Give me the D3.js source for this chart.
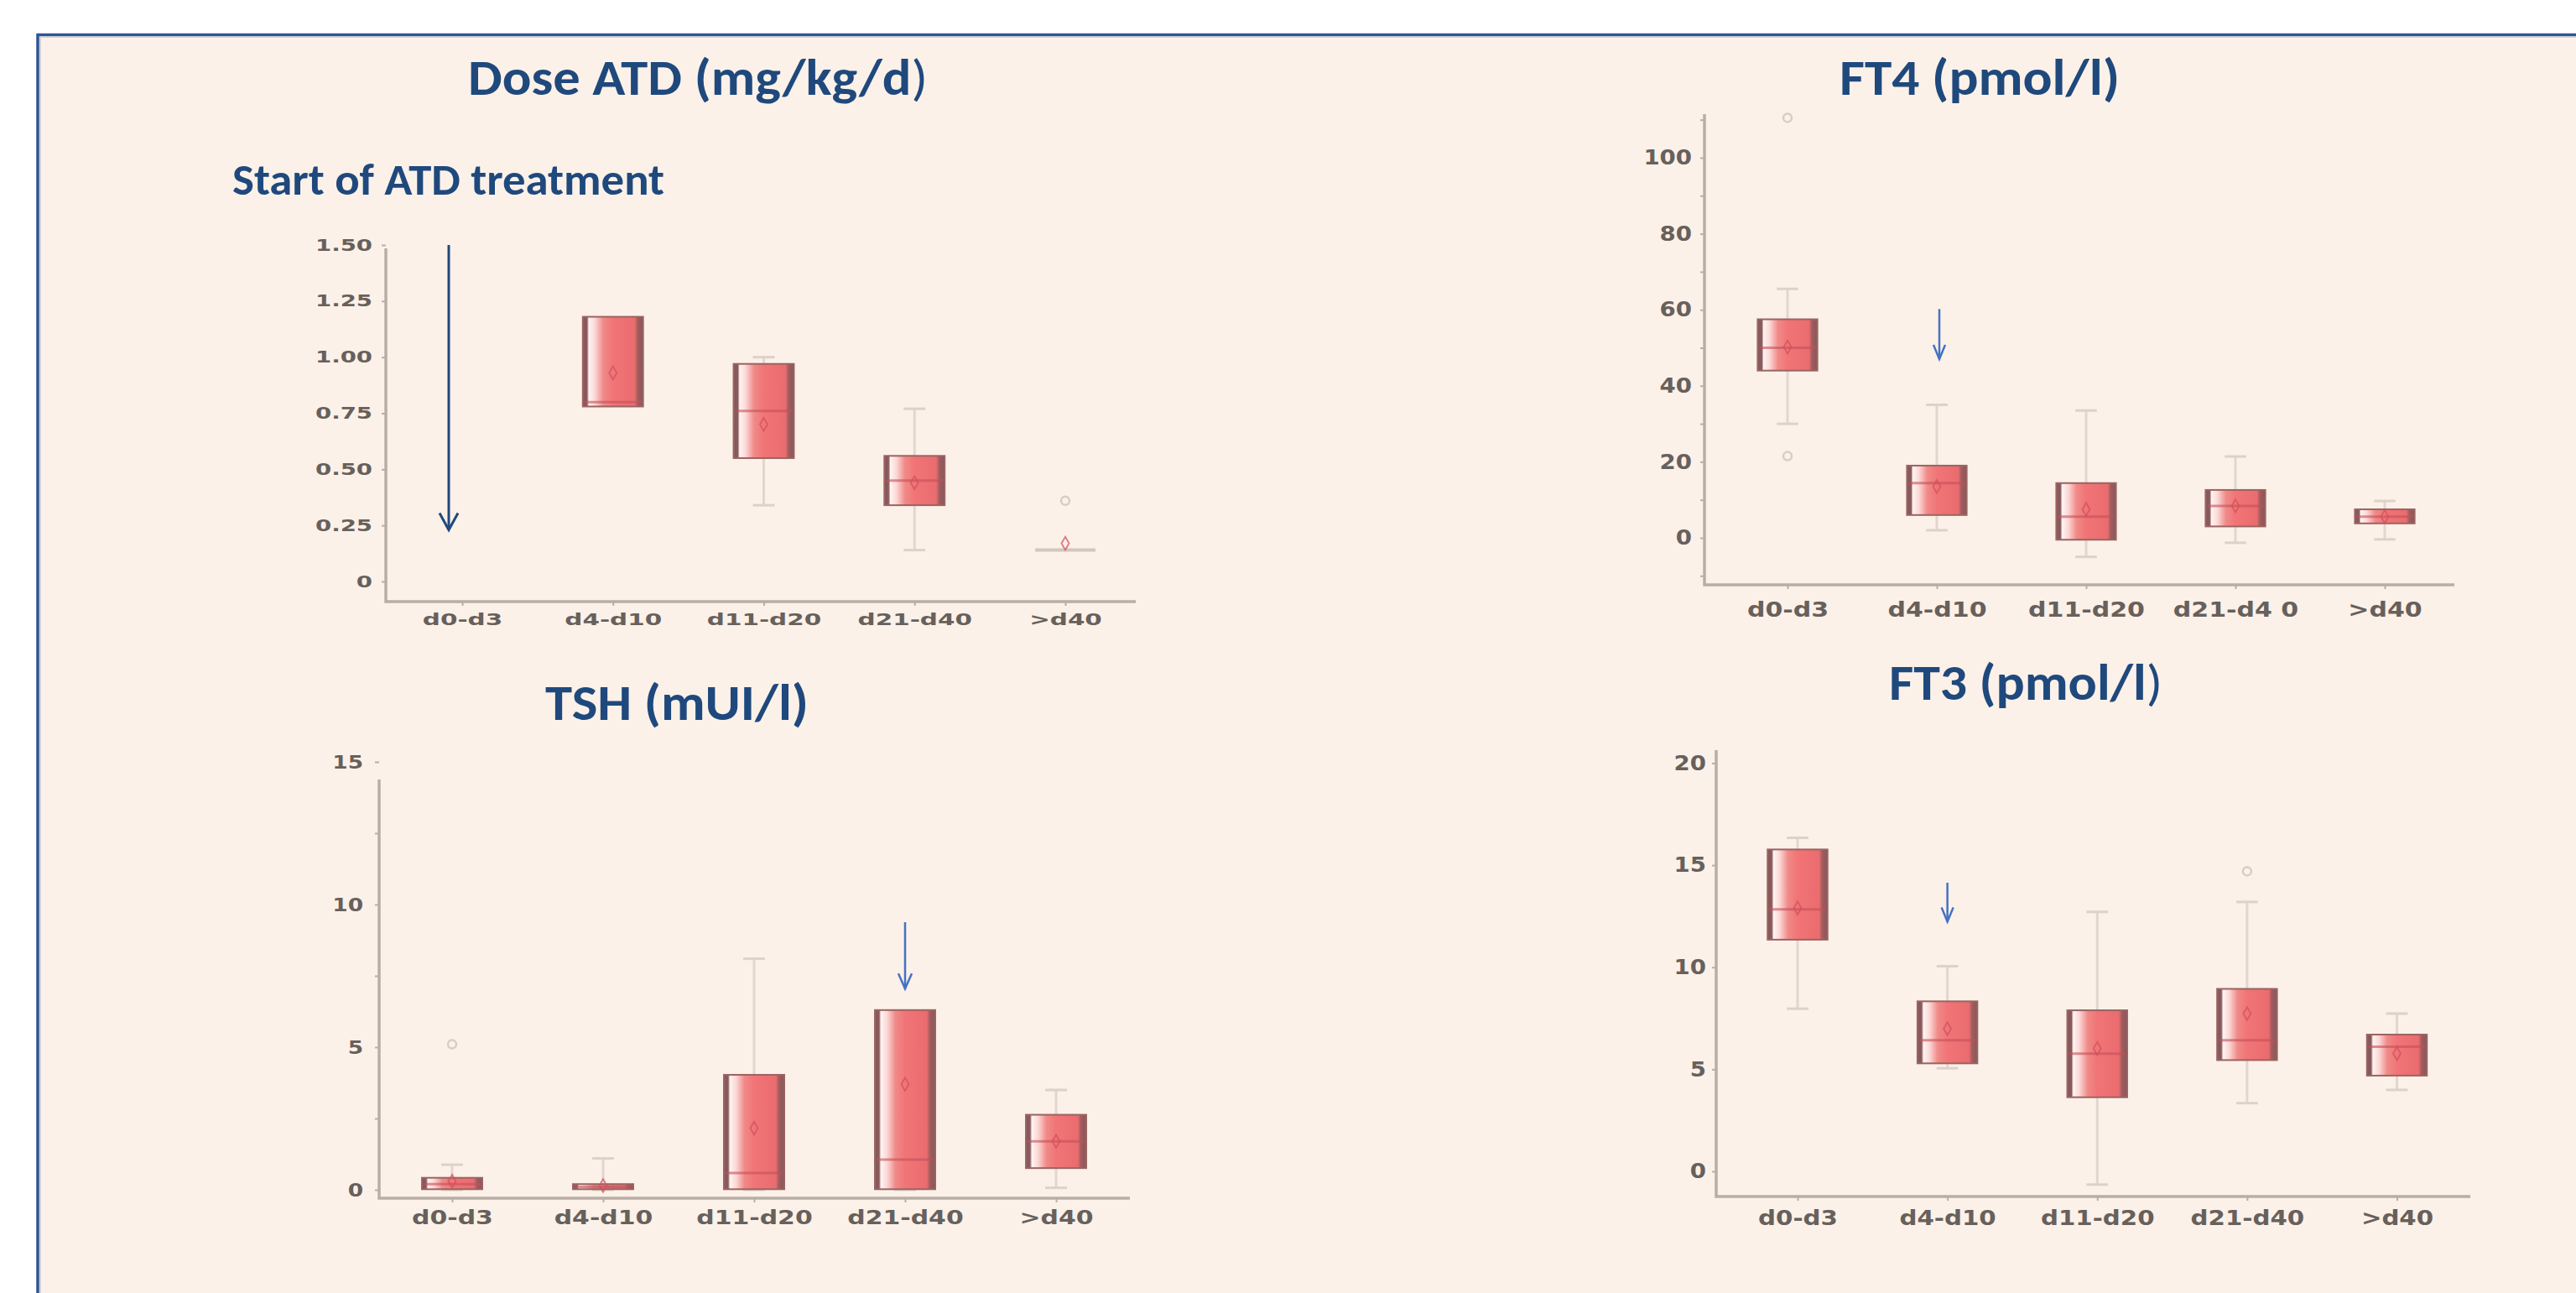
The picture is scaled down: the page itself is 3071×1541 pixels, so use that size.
<!DOCTYPE html>
<html>
<head>
<meta charset="utf-8">
<script src="https://cdn.jsdelivr.net/npm/d3@7"></script>
<style>
  html, body { margin: 0; padding: 0; background: #fff; }
  svg { display: block; }
</style>
</head>
<body>
<svg id="chart" width="3071" height="1541"></svg>
<script>
// categories (FT4 panel has the odd "d21-d4 0" label as in the source)
const categories = ['d0-d3', 'd4-d10', 'd11-d20', 'd21-d40', '>d40'];
const ft4Categories = ['d0-d3', 'd4-d10', 'd11-d20', 'd21-d4 0', '>d40'];

// Dose ATD (mg/kg/d)
const doseLow    = [null, 0.78, 0.34, 0.14, 0.14];
const doseQ1     = [null, 0.78, 0.55, 0.34, 0.14];
const doseMedian = [null, 0.80, 0.76, 0.45, 0.14];
const doseQ3     = [null, 1.18, 0.97, 0.56, 0.14];
const doseHigh   = [null, 1.18, 1.00, 0.77, 0.14];
const doseMean   = [null, 0.93, 0.70, 0.44, 0.17];
const doseOutlierCats = ['>d40'];
const doseOutlierValues = [0.36];
const doseTicks = [0, 0.25, 0.5, 0.75, 1, 1.25, 1.5];
const doseTickLabels = ['0', '0.25', '0.50', '0.75', '1.00', '1.25', '1.50'];

// FT4 (pmol/l)
const ft4Low    = [30, 2, -5, -1.3, -0.4];
const ft4Q1     = [44, 6, -0.5, 3, 3.8];
const ft4Median = [50, 14.4, 5.6, 8.4, 5.6];
const ft4Q3     = [57.5, 19, 14.4, 12.6, 7.5];
const ft4High   = [65.5, 35, 33.5, 21.4, 9.7];
const ft4Mean   = [50.2, 13.5, 7.5, 8.4, 5.6];
const ft4OutlierCats = ['d0-d3', 'd0-d3'];
const ft4OutlierValues = [110.5, 21.5];
const ft4Ticks = [0, 20, 40, 60, 80, 100];
const ft4TickLabels = ['0', '20', '40', '60', '80', '100'];
const ft4MinorTicks = [-10, 10, 30, 50, 70, 90, 110];

// TSH (mUI/l)
const tshLow    = [0, 0, 0, 0, 0.07];
const tshQ1     = [0.02, 0.02, 0.02, 0.02, 0.76];
const tshMedian = [0.2, 0.1, 0.59, 1.06, 1.7];
const tshQ3     = [0.42, 0.2, 4.03, 6.3, 2.63];
const tshHigh   = [0.88, 1.1, 8.1, 6.3, 3.5];
const tshMean   = [0.3, 0.15, 2.16, 3.7, 1.7];
const tshOutlierCats = ['d0-d3'];
const tshOutlierValues = [5.1];
const tshTicks = [0, 5, 10, 15];
const tshTickLabels = ['0', '5', '10', '15'];
const tshMinorTicks = [2.5, 7.5, 12.5];

// FT3 (pmol/l)
const ft3Low    = [7.97, 5.05, -0.65, 3.34, 3.99];
const ft3Q1     = [11.35, 5.29, 3.63, 5.45, 4.69];
const ft3Median = [12.84, 6.42, 5.77, 6.42, 6.1];
const ft3Q3     = [15.77, 8.33, 7.89, 8.94, 6.7];
const ft3High   = [16.34, 10.05, 12.71, 13.2, 7.73];
const ft3Mean   = [12.9, 6.99, 6.02, 7.73, 5.77];
const ft3OutlierCats = ['d21-d40'];
const ft3OutlierValues = [14.7];
const ft3Ticks = [0, 5, 10, 15, 20];
const ft3TickLabels = ['0', '5', '10', '15', '20'];

const svg = d3.select('#chart');
const defs = svg.append('defs');

// box fill: dark edges, pale stripe on the left, red body
const grad = defs.append('linearGradient').attr('id', 'boxGrad')
    .attr('x1', 0).attr('x2', 1).attr('y1', 0).attr('y2', 0);
[[0, '#86585a'], [0.07, '#8a5a5c'], [0.1, '#fff4f2'], [0.2, '#fbd8d6'], [0.34, '#f08a88'],
 [0.5, '#f17476'], [0.86, '#ea6c6e'], [0.91, '#a25c5e'], [1, '#86585a']]
    .forEach(([o, c]) => grad.append('stop').attr('offset', o).attr('stop-color', c));

// frame
svg.append('rect').attr('width', 3071).attr('height', 1541).attr('fill', '#fff');
svg.append('rect')
    .attr('x', 45).attr('y', 41.5).attr('width', 3100).attr('height', 1600)
    .attr('fill', '#fcf1e8').attr('stroke', '#2f5597').attr('stroke-width', 3.5);
svg.append('path').attr('d', 'M48,1541V44H3071')
    .attr('fill', 'none').attr('stroke', '#c6c8d2').attr('stroke-width', 1.5);

const axisColor = '#b9aea6';

function styleLabels(sel, f) {
    sel.selectAll('text')
        .attr('font-family', "'DejaVu Sans', Verdana, sans-serif")
        .attr('font-weight', 'bold')
        .attr('font-size', f.size)
        .attr('fill', '#67605c')
        .attr('transform', `scale(${f.sx},1)`)
        .attr('x', function () { return (+d3.select(this).attr('x') || 0) / f.sx; });
}

function drawPanel(p) {
    const L = p.layout;
    const x = d3.scalePoint().domain(p.cats).range(L.xRange);
    const y = d3.scaleLinear().domain(L.yDomain).range(L.yRange);
    const bw = x.step() * 0.4;
    const g = svg.append('g');

    // minor ticks
    if (p.minorTicks.length) {
        const gm = g.append('g').attr('transform', `translate(${L.left},0)`)
            .call(d3.axisLeft(y).tickValues(p.minorTicks).tickFormat('').tickSize(L.tick));
        gm.select('.domain').remove();
        gm.selectAll('line').attr('stroke', axisColor).attr('stroke-width', 2);
    }

    // y axis
    const gy = g.append('g').attr('transform', `translate(${L.left},0)`)
        .call(d3.axisLeft(y).tickValues(p.ticks)
            .tickFormat(d => p.tickLabels[p.ticks.indexOf(d)])
            .tickSize(L.tick).tickPadding(p.yFont.pad));
    gy.select('.domain').remove();
    gy.selectAll('line').attr('stroke', axisColor).attr('stroke-width', 2);
    styleLabels(gy, p.yFont);

    // x axis
    const gx = g.append('g').attr('transform', `translate(0,${L.bottom})`)
        .call(d3.axisBottom(x).tickSize(L.tick).tickPadding(p.xFont.pad));
    gx.select('.domain').remove();
    gx.selectAll('line').attr('stroke', axisColor).attr('stroke-width', 2);
    styleLabels(gx, p.xFont);

    // axis lines
    g.append('path')
        .attr('d', `M${L.left},${L.top}V${L.bottom}H${L.right}`)
        .attr('fill', 'none').attr('stroke', axisColor).attr('stroke-width', 3.5);

    const stats = p.cats.map((c, i) => ({
        cat: c, lo: p.low[i], q1: p.q1[i], med: p.median[i],
        q3: p.q3[i], hi: p.high[i], mean: p.mean[i]
    })).filter(d => d.q1 != null);

    // whiskers
    g.selectAll('.whisker').data(stats).join('line')
        .attr('class', 'whisker')
        .attr('x1', d => x(d.cat)).attr('x2', d => x(d.cat))
        .attr('y1', d => y(d.lo)).attr('y2', d => y(d.hi))
        .attr('stroke', '#e2d6ce').attr('stroke-width', 3);

    const caps = [];
    stats.forEach(d => {
        if (d.hi > d.q3) caps.push({cat: d.cat, v: d.hi});
        if (d.lo < d.q1) caps.push({cat: d.cat, v: d.lo});
    });
    g.selectAll('.cap').data(caps).join('line')
        .attr('class', 'cap')
        .attr('x1', d => x(d.cat) - bw * 0.18).attr('x2', d => x(d.cat) + bw * 0.18)
        .attr('y1', d => y(d.v)).attr('y2', d => y(d.v))
        .attr('stroke', '#ddd1c9').attr('stroke-width', 3);

    // boxes
    const boxes = stats.filter(d => y(d.q1) - y(d.q3) > 1);
    g.selectAll('.box').data(boxes).join('rect')
        .attr('class', 'box')
        .attr('x', d => x(d.cat) - bw / 2).attr('width', bw)
        .attr('y', d => y(d.q3)).attr('height', d => y(d.q1) - y(d.q3))
        .attr('fill', 'url(#boxGrad)')
        .attr('stroke', '#9a6462').attr('stroke-width', 2);

    // collapsed boxes drawn as a flat line
    g.selectAll('.flat').data(stats.filter(d => y(d.q1) - y(d.q3) <= 1)).join('line')
        .attr('class', 'flat')
        .attr('x1', d => x(d.cat) - bw / 2).attr('x2', d => x(d.cat) + bw / 2)
        .attr('y1', d => y(d.q1)).attr('y2', d => y(d.q1))
        .attr('stroke', '#d3c6be').attr('stroke-width', 4);

    // medians
    g.selectAll('.median').data(boxes).join('line')
        .attr('class', 'median')
        .attr('x1', d => x(d.cat) - bw / 2 + 2).attr('x2', d => x(d.cat) + bw / 2 - 2)
        .attr('y1', d => y(d.med)).attr('y2', d => y(d.med))
        .attr('stroke', '#c4505a').attr('stroke-width', 3).attr('opacity', 0.6);

    // means
    g.selectAll('.mean').data(stats).join('path')
        .attr('class', 'mean')
        .attr('transform', d => `translate(${x(d.cat)},${y(d.mean)})`)
        .attr('d', d3.symbol(d3.symbolDiamond, 70))
        .attr('fill', 'none').attr('stroke', '#d2505c').attr('stroke-width', 1.8).attr('opacity', 0.75);

    // outliers
    const outs = p.outlierCats.map((c, i) => ({cat: c, v: p.outlierValues[i]}));
    g.selectAll('.outlier').data(outs).join('circle')
        .attr('class', 'outlier')
        .attr('cx', d => x(d.cat)).attr('cy', d => y(d.v)).attr('r', 5)
        .attr('fill', 'none').attr('stroke', '#d9ccc4').attr('stroke-width', 2.5);

    // annotation arrow
    const a = p.arrow;
    const ax = x(a.cat) + a.dx;
    const tip = y(a.to);
    g.append('line')
        .attr('x1', ax).attr('x2', ax).attr('y1', y(a.from)).attr('y2', tip)
        .attr('stroke', a.color).attr('stroke-width', a.width);
    g.append('path')
        .attr('d', `M${ax - a.hw},${tip - a.hh}L${ax},${tip}L${ax + a.hw},${tip - a.hh}`)
        .attr('fill', 'none').attr('stroke', a.color).attr('stroke-width', a.width);

    // title
    const t = svg.append('text')
        .attr('x', p.title.x).attr('y', p.title.y)
        .attr('textLength', p.title.w).attr('lengthAdjust', 'spacingAndGlyphs')
        .attr('font-family', "Carlito, 'Liberation Sans Narrow', Lato, 'Open Sans', sans-serif")
        .attr('font-size', p.title.size).attr('fill', '#1f497d');
    p.title.parts.forEach(([txt, w]) => t.append('tspan').attr('font-weight', w).text(txt));
}

const panels = [
    {
        cats: categories, low: doseLow, q1: doseQ1, median: doseMedian, q3: doseQ3,
        high: doseHigh, mean: doseMean, outlierCats: doseOutlierCats, outlierValues: doseOutlierValues,
        ticks: doseTicks, tickLabels: doseTickLabels, minorTicks: [],
        layout: {xRange: [551, 1270], yDomain: [0, 1.5], yRange: [693, 292],
                 left: 460, right: 1354, top: 296, bottom: 717, tick: 5},
        yFont: {size: 19, sx: 1.45, pad: 11}, xFont: {size: 19, sx: 1.55, pad: 10},
        arrow: {cat: 'd0-d3', from: 1.5, to: 0.23, dx: -16, color: '#1f497d', width: 3, hw: 11, hh: 20},
        title: {parts: [['Dose ATD (mg/kg/d', 'bold'], [')', 'normal']], x: 558, y: 113, w: 548, size: 60}
    },
    {
        cats: ft4Categories, low: ft4Low, q1: ft4Q1, median: ft4Median, q3: ft4Q3,
        high: ft4High, mean: ft4Mean, outlierCats: ft4OutlierCats, outlierValues: ft4OutlierValues,
        ticks: ft4Ticks, tickLabels: ft4TickLabels, minorTicks: ft4MinorTicks,
        layout: {xRange: [2131, 2843], yDomain: [0, 100], yRange: [641, 188],
                 left: 2032, right: 2926, top: 136, bottom: 697, tick: 5},
        yFont: {size: 24, sx: 1.15, pad: 10}, xFont: {size: 25, sx: 1.2, pad: 15},
        arrow: {cat: 'd4-d10', from: 60.2, to: 47, dx: 3, color: '#4472c4', width: 2.5, hw: 7, hh: 17},
        title: {parts: [['FT4 (pmol/l)', 'bold']], x: 2193, y: 113, w: 334, size: 60}
    },
    {
        cats: categories, low: tshLow, q1: tshQ1, median: tshMedian, q3: tshQ3,
        high: tshHigh, mean: tshMean, outlierCats: tshOutlierCats, outlierValues: tshOutlierValues,
        ticks: tshTicks, tickLabels: tshTickLabels, minorTicks: tshMinorTicks,
        layout: {xRange: [539, 1259], yDomain: [0, 15], yRange: [1418, 908],
                 left: 452, right: 1347, top: 929, bottom: 1428, tick: 5},
        yFont: {size: 22, sx: 1.2, pad: 14}, xFont: {size: 23, sx: 1.3, pad: 10},
        arrow: {cat: 'd21-d40', from: 9.38, to: 7.05, dx: 0, color: '#4472c4', width: 2.5, hw: 8, hh: 18},
        title: {parts: [['TSH (mUI/l)', 'bold']], x: 650, y: 858, w: 314, size: 60}
    },
    {
        cats: categories, low: ft3Low, q1: ft3Q1, median: ft3Median, q3: ft3Q3,
        high: ft3High, mean: ft3Mean, outlierCats: ft3OutlierCats, outlierValues: ft3OutlierValues,
        ticks: ft3Ticks, tickLabels: ft3TickLabels, minorTicks: [],
        layout: {xRange: [2143, 2857.5], yDomain: [0, 20], yRange: [1396, 909.5],
                 left: 2046, right: 2945, top: 894, bottom: 1426, tick: 5},
        yFont: {size: 24, sx: 1.15, pad: 7}, xFont: {size: 24, sx: 1.22, pad: 12},
        arrow: {cat: 'd4-d10', from: 14.14, to: 12.23, dx: 0, color: '#4472c4', width: 2.5, hw: 7, hh: 17},
        title: {parts: [['FT3 (pmol/l', 'bold'], [')', 'normal']], x: 2252, y: 834, w: 326, size: 60}
    }
];

panels.forEach(drawPanel);

// annotation text
svg.append('text')
    .attr('x', 277).attr('y', 232)
    .attr('textLength', 515).attr('lengthAdjust', 'spacingAndGlyphs')
    .attr('font-family', "Carlito, 'Liberation Sans Narrow', Lato, 'Open Sans', sans-serif")
    .attr('font-weight', 'bold').attr('font-size', 52).attr('fill', '#1f497d')
    .text('Start of ATD treatment');
</script>
</body>
</html>
